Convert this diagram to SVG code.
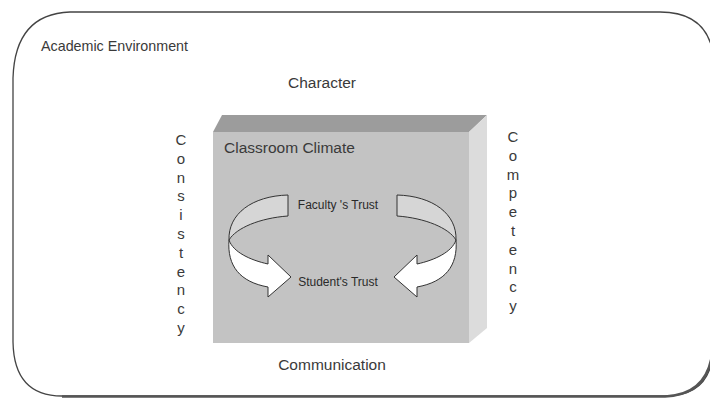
<svg xmlns="http://www.w3.org/2000/svg" width="710" height="398" viewBox="0 0 710 398">
<style>
text{font-family:"Liberation Sans",Arial,sans-serif;fill:#3a3a3a}
.lbl{font-size:15.5px}
.vert{font-size:15px;text-anchor:middle}
.small{font-size:12px;text-anchor:middle;fill:#2a2a2a}
.back{fill:#d6d6d6;stroke:#333;stroke-width:1}
.front{fill:#fff;stroke:#333;stroke-width:1}
</style>
<rect width="710" height="398" fill="#fff"/>
<g id="academic-environment">
<path d="M70,12 L660,12 Q703,12 712,48 L712,360 Q706,396 665,396 L62,396 Q14,396 13,342 L13,78 Q15,14 70,12 Z" fill="none" stroke="#444" stroke-width="1.3"/>
<path d="M712,355 Q706,395 665,396.5 L62,396.5" fill="none" stroke="#555" stroke-width="2.5"/>
<text x="41" y="51" style="font-size:14.3px">Academic Environment</text>
</g>
<g id="character"><text class="lbl" x="322" y="88" text-anchor="middle">Character</text></g>
<g id="communication"><text class="lbl" x="332" y="370" text-anchor="middle">Communication</text></g>
<g id="consistency">
<text class="vert" x="181"><tspan x="181" y="145">C</tspan><tspan x="181" y="163.8">o</tspan><tspan x="181" y="182.6">n</tspan><tspan x="181" y="201.4">s</tspan><tspan x="181" y="220.2">i</tspan><tspan x="181" y="239">s</tspan><tspan x="181" y="257.8">t</tspan><tspan x="181" y="276.6">e</tspan><tspan x="181" y="295.4">n</tspan><tspan x="181" y="314.2">c</tspan><tspan x="181" y="333">y</tspan></text>
</g>
<g id="competency">
<text class="vert" x="513"><tspan x="513" y="142">C</tspan><tspan x="513" y="160.8">o</tspan><tspan x="513" y="179.6">m</tspan><tspan x="513" y="198.4">p</tspan><tspan x="513" y="217.2">e</tspan><tspan x="513" y="236">t</tspan><tspan x="513" y="254.8">e</tspan><tspan x="513" y="273.6">n</tspan><tspan x="513" y="292.4">c</tspan><tspan x="513" y="311.2">y</tspan></text>
</g>
<g id="classroom-climate">
<polygon points="213,132 222,115 487,115 469,132" fill="#9c9c9c"/>
<polygon points="469,132 487,115 487,328 469,343" fill="#dcdcdc"/>
<rect x="213" y="132" width="256" height="211" fill="#c3c3c3"/>
<text class="lbl" x="224" y="153">Classroom Climate</text>
</g>
<g id="connectors">
<g id="arrow-left">
<path class="back" d="M288,195 C252,196 228,214 229,240 C236,228 260,218 288,216 Z"/>
<path class="front" d="M229,240 C233,252 250,260 268,264 L268,255 L291,277 L268,297 L268,287 C240,282 227,266 229,240 Z"/>
</g>
<g id="arrow-right" transform="translate(685,0) scale(-1,1)">
<path class="back" d="M288,195 C252,196 228,214 229,240 C236,228 260,218 288,216 Z"/>
<path class="front" d="M229,240 C233,252 250,260 268,264 L268,255 L291,277 L268,297 L268,287 C240,282 227,266 229,240 Z"/>
</g>
</g>
<g id="faculty-trust"><text class="small" x="338" y="209">Faculty 's Trust</text></g>
<g id="student-trust"><text class="small" x="338" y="286">Student's Trust</text></g>
</svg>
